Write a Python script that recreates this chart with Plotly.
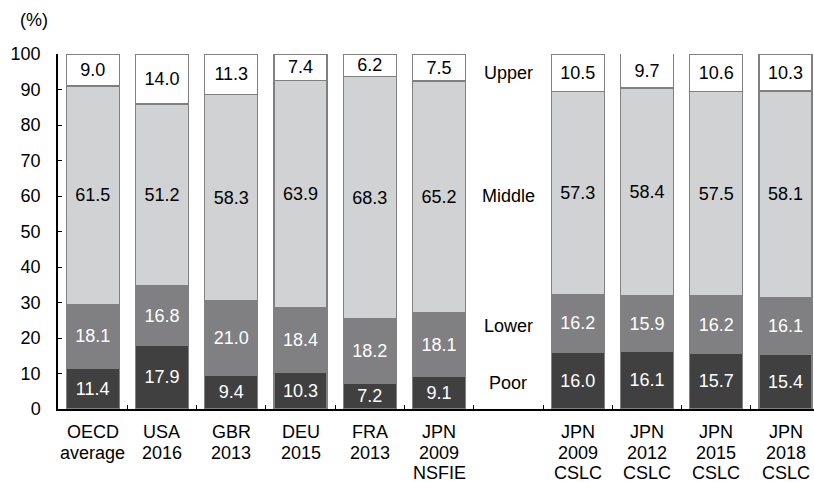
import plotly.graph_objects as go

categories = ["OECD<br>average", "USA<br>2016", "GBR<br>2013", "DEU<br>2015", "FRA<br>2013",
              "JPN<br>2009<br>NSFIE", " ", "JPN<br>2009<br>CSLC", "JPN<br>2012<br>CSLC",
              "JPN<br>2015<br>CSLC", "JPN<br>2018<br>CSLC"]
poor   = [11.4, 17.9, 9.4, 10.3, 7.2, 9.1, None, 16.0, 16.1, 15.7, 15.4]
lower  = [18.1, 16.8, 21.0, 18.4, 18.2, 18.1, None, 16.2, 15.9, 16.2, 16.1]
middle = [61.5, 51.2, 58.3, 63.9, 68.3, 65.2, None, 57.3, 58.4, 57.5, 58.1]
upper  = [9.0, 14.0, 11.3, 7.4, 6.2, 7.5, None, 10.5, 9.7, 10.6, 10.3]
class_labels = ["Upper", "Middle", "Lower", "Poor"]
class_label_y = [94.6, 60.0, 23.4, 7.3]
yticks = list(range(0, 101, 10))

FONT = "Liberation Sans, Arial, sans-serif"
FS = 18

series = [
    (poor, "#404041", "white"),
    (lower, "#808083", "white"),
    (middle, "#d1d2d4", "black"),
    (upper, "#ffffff", "black"),
]

fig = go.Figure()
for vals, col, tcol in series:
    fig.add_trace(go.Bar(
        x=categories, y=vals,
        marker=dict(color=col, line=dict(color="#808080", width=1.2)),
        text=[("%.1f" % v) if v is not None else "" for v in vals],
        textposition="inside", insidetextanchor="middle", textangle=0,
        textfont=dict(family=FONT, size=FS, color=tcol),
        hoverinfo="skip", showlegend=False,
    ))

for lab, yv in zip(class_labels, class_label_y):
    fig.add_annotation(x=" ", y=yv, text=lab, showarrow=False, xref="x", yref="y",
                       font=dict(family=FONT, size=FS, color="black"))

# multi-line category labels, one annotation per line for tight line spacing
line_shifts = [-23, -43.5, -64]
for cat in categories:
    if cat.strip() == "":
        continue
    for i, part in enumerate(cat.split("<br>")):
        fig.add_annotation(x=cat, y=0, xref="x", yref="y", text=part, showarrow=False,
                           yanchor="middle", yshift=line_shifts[i],
                           font=dict(family=FONT, size=FS, color="black"))

fig.add_annotation(x=-0.0317, y=1.0958, xref="paper", yref="paper", text="(%)", showarrow=False,
                   xanchor="center", yanchor="middle",
                   font=dict(family=FONT, size=FS, color="black"))

fig.update_layout(
    width=814, height=482,
    margin=dict(l=58, r=0, t=54, b=73),
    barmode="stack", bargap=0.235,
    plot_bgcolor="white", paper_bgcolor="white",
    uniformtext=dict(mode="show", minsize=FS),
    font=dict(family=FONT, size=FS, color="black"),
    xaxis=dict(type="category", categoryorder="array", categoryarray=categories,
               range=[-0.5, 10.41], showline=True, linecolor="black", linewidth=1.5,
               ticks="inside", ticklen=4, tickcolor="black", tickson="boundaries",
               showticklabels=False, showgrid=False),
    yaxis=dict(range=[0, 100], tickvals=yticks, showline=True, linecolor="black", linewidth=1.5,
               ticks="inside", ticklen=4, tickcolor="black", showgrid=False, zeroline=False,
               ticklabelstandoff=12,
               tickfont=dict(family=FONT, size=FS, color="black")),
)

fig.write_html("out.html")
